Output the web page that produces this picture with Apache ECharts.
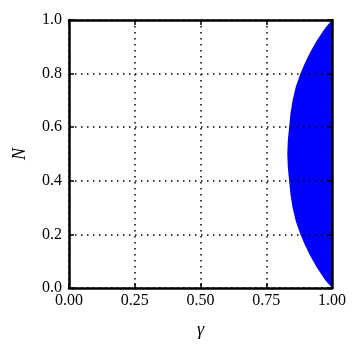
<!DOCTYPE html>
<html><head><meta charset="utf-8">
<script src="https://cdn.jsdelivr.net/npm/echarts@6/dist/echarts.min.js"></script>
<style>html,body{margin:0;padding:0;background:#fff}#c{width:362px;height:353px}</style>
</head><body><div id="c"></div>
<script>
// Boundary of the blue region
var boundaryN =     [0, 0.01, 0.03, 0.05, 0.08, 0.12, 0.16, 0.20, 0.25, 0.30, 0.35, 0.40, 0.45, 0.50, 0.55, 0.60, 0.65, 0.70, 0.75, 0.80, 0.84, 0.88, 0.92, 0.95, 0.97, 0.99, 1.00];
var boundaryGamma = [1, 0.991, 0.974, 0.960, 0.940, 0.917, 0.897, 0.880, 0.862, 0.850, 0.842, 0.837, 0.832, 0.830, 0.832, 0.837, 0.842, 0.850, 0.862, 0.880, 0.897, 0.917, 0.940, 0.960, 0.974, 0.991, 1.00];
var xTicks = [0, 0.25, 0.5, 0.75, 1];
var yTicks = [0, 0.2, 0.4, 0.6, 0.8, 1];

var pts = boundaryN.map(function(n, i){ return [boundaryGamma[i], n]; });
var font = 'Liberation Serif';
var chart = echarts.init(document.getElementById('c'));
var axisLine = {show: true, onZero: false, lineStyle: {color: '#000', width: 2.5}};
var tick = {show: true, inside: true, length: 5, lineStyle: {color: '#000', width: 1.5}};
var split = {show: true, lineStyle: {color: '#000', width: 1.5, type: [1.5, 4.5]}};
chart.setOption({
  animation: false,
  grid: {left: 69, top: 20, width: 263, height: 268, show: false},
  xAxis: [{
    type: 'value', min: 0, max: 1, interval: 0.25, position: 'bottom',
    name: 'γ', nameLocation: 'middle', nameGap: 33,
    nameTextStyle: {fontFamily: font, fontStyle: 'italic', fontSize: 18, color: '#000'},
    axisLine: axisLine, axisTick: tick, splitLine: split,
    axisLabel: {fontFamily: font, fontSize: 16, color: '#000', margin: 5,
      formatter: function(v){ return v.toFixed(2); }}
  }, {
    type: 'value', min: 0, max: 1, interval: 0.25, position: 'top',
    axisLine: axisLine, axisTick: tick, splitLine: {show: false}, axisLabel: {show: false}
  }],
  yAxis: [{
    type: 'value', min: 0, max: 1, interval: 0.2, position: 'left',
    name: 'N', nameLocation: 'middle', nameGap: 40,
    nameTextStyle: {fontFamily: font, fontStyle: 'italic', fontSize: 18, color: '#000'},
    axisLine: axisLine, axisTick: tick, splitLine: split,
    axisLabel: {fontFamily: font, fontSize: 16, color: '#000', margin: 7,
      formatter: function(v){ return v.toFixed(1); }}
  }, {
    type: 'value', min: 0, max: 1, interval: 0.2, position: 'right',
    axisLine: axisLine, axisTick: tick, splitLine: {show: false}, axisLabel: {show: false}
  }],
  series: [{
    type: 'custom', z: -1, xAxisIndex: 0, yAxisIndex: 0,
    data: [0],
    renderItem: function(params, api){
      var poly = pts.map(function(p){ return api.coord(p); });
      poly.push(api.coord([1, 1]));
      poly.push(api.coord([1, 0]));
      return {type: 'polygon', shape: {points: poly}, style: {fill: '#0000ff'}};
    }
  }]
});
</script></body></html>
